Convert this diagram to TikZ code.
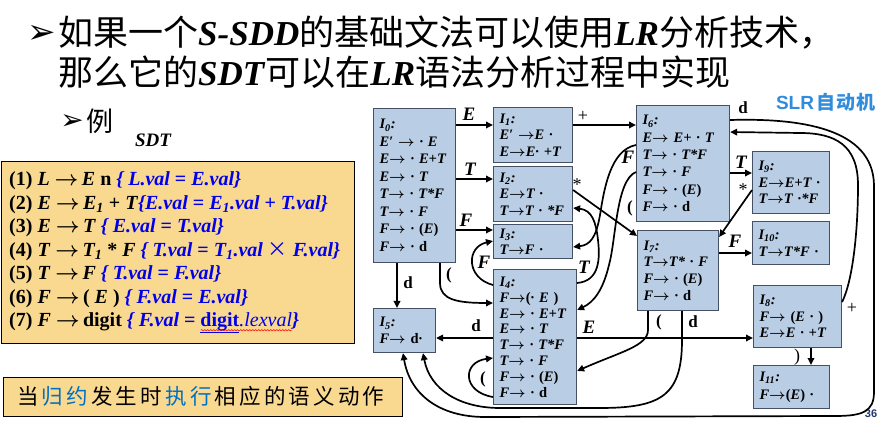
\documentclass[tikz,border=0pt]{standalone}
\usepackage{fontspec}
\setmainfont{Liberation Serif}
\newfontfamily\cjk{Noto Sans CJK SC}
\newfontfamily\dingfont{DejaVu Sans}
\newfontfamily\arialf{Liberation Sans}
\usetikzlibrary{arrows.meta,decorations.pathmorphing}

\definecolor{statefill}{RGB}{185,205,229}
\definecolor{stateedge}{RGB}{70,80,100}
\definecolor{sdtfill}{RGB}{249,216,143}
\definecolor{actblue}{RGB}{0,0,235}
\definecolor{cjkblue}{RGB}{0,112,192}
\definecolor{slrblue}{RGB}{50,140,220}
\definecolor{pgnum}{RGB}{31,56,110}

\newcommand{\rto}{\mbox{\boldmath$\rightarrow$}}
\newcommand{\ru}[1]{\textup{#1}}
\newcommand{\act}[1]{\textcolor{actblue}{\itshape #1}}
\newcommand{\kk}{\kern3.2pt}
% red wavy underline under a piece of text
\newcommand{\wavy}[1]{\setbox0\hbox{#1}\rlap{\raisebox{-3.5pt}{\tikz[baseline=0pt]\draw[red, line width=0.5pt,
  decorate, decoration={snake, amplitude=0.7pt, segment length=3pt}] (0pt,0pt) -- (\wd0,0pt);}}\box0}

\tikzset{
  state/.style={draw=stateedge, fill=statefill, line width=1.1pt, anchor=north west,
    align=left, inner xsep=6pt, inner ysep=0pt,
    font=\fontsize{14.5}{16.7}\selectfont\bfseries\itshape},
  conn/.style={line width=1.7pt, -{Triangle[length=7pt,width=6.5pt]}},
  elab/.style={font=\fontsize{19}{19}\selectfont\bfseries\itshape, inner sep=0pt},
  slab/.style={font=\fontsize{17}{17}\selectfont\bfseries, inner sep=0pt},
  plab/.style={font=\fontsize{18}{18}\selectfont, inner sep=0pt},
  notebox/.style={draw, fill=sdtfill, line width=1.2pt, anchor=north west, inner sep=0pt}
}

\begin{document}
\begin{tikzpicture}[x=1pt,y=-1pt]
\useasboundingbox (0,0) rectangle (887,422);
\fill[white] (0,0) rectangle (887,422);

% heading
\node[anchor=east, inner sep=0pt, font=\dingfont\fontsize{34}{34}\selectfont] (b1) at (56,34) {➢};
\node[anchor=base west, inner sep=0pt, font=\fontsize{35}{35}\selectfont] (t1) at (58,46)
  {{\cjk 如果一个}\textbf{\textit{S-SDD}}{\cjk 的基础文法可以使用}\textbf{\textit{LR}}{\cjk 分析技术，}};
\node[anchor=base west, inner sep=0pt, font=\fontsize{35}{35}\selectfont] (t2) at (58,86)
  {{\cjk 那么它的}\textbf{\textit{SDT}}{\cjk 可以在}\textbf{\textit{LR}}{\cjk 语法分析过程中实现}};

\node[inner sep=0pt, font=\dingfont\fontsize{28}{28}\selectfont] (b2) at (72,122) {➢};
\node[inner sep=0pt, font=\cjk\fontsize{27}{27}\selectfont] (ex) at (100,121) {例};
\node[inner sep=0pt, font=\fontsize{19}{19}\selectfont\bfseries\itshape] (sdtlab) at (153,140) {SDT};

% translation scheme
\node[notebox, minimum width=353pt, minimum height=182pt] (sdtbox) at (1,161) {};
\node[anchor=west, inner sep=0pt, align=left, font=\fontsize{20}{23.5}\selectfont\bfseries] (sdt) at (9,252.5) {%
(1) \textit{L} \rto\,\textit{E} n \act{\{ L.val \ru{=} E.val\}}\\
(2) \textit{E} \rto\,\textit{E\textsubscript{1}} + \textit{T}\act{\{E.val \ru{=} E\textsubscript{1}.val \ru{+} T.val\}}\\
(3) \textit{E} \rto\,\textit{T} \act{\{ E.val \ru{=} T.val\}}\\
(4) \textit{T} \rto\,\textit{T\textsubscript{1}} * \textit{F} \act{\{ T.val \ru{=} T\textsubscript{1}.val {\cjk\mdseries\upshape ×} F.val\}}\\
(5) \textit{T} \rto\,\textit{F} \act{\{ T.val \ru{=} F.val\}}\\
(6) \textit{F} \rto\,( \textit{E} ) \act{\{ F.val \ru{=} E.val\}}\\
(7) \textit{F} \rto\,digit \act{\{ F.val \ru{=} \wavy{{\upshape\underline{digit}}\mdseries.lexval}\}}};

% note
\node[notebox, minimum width=399pt, minimum height=39pt] (note) at (3,377) {};
\node[anchor=west, inner sep=0pt, font=\cjk\fontsize{21.5}{21.5}\selectfont] (notetext) at (17,396)
  {当\kk\textcolor{cjkblue}{归\kk 约}\kk 发\kk 生\kk 时\kk\textcolor{cjkblue}{执\kk 行}\kk 相\kk 应\kk 的\kk 语\kk 义\kk 动\kk 作};

% automaton title and page number
\node[inner sep=0pt, text=slrblue] (slr) at (826,102)
  {\fontsize{19}{19}\selectfont\arialf\bfseries SLR\kern2pt\cjk\bfseries 自\kern1.5pt 动\kern1.5pt 机};
\node[inner sep=0pt, text=pgnum, font=\arialf\bfseries\fontsize{11}{11}\selectfont] (pg) at (871,414) {36};

% states
\node[state, text width=70pt, minimum height=154pt, font=\fontsize{14.5}{17.5}\selectfont\bfseries\itshape] (I0) at (373,108) {%
I\textsubscript{0}:\\ E′ \rto{} · E\\ E\rto{} · E+T\\ E\rto{} · T\\ T\rto{} · T*F\\ T\rto{} · F\\ F\rto{} · \ru{(}E\ru{)}\\ F\rto{} · \ru{d}};
\node[state, text width=67pt, minimum height=55pt] (I1) at (493,107) {%
I\textsubscript{1}:\\ E′ \rto E ·\\ E\rto E· +T};
\node[state, text width=67pt, minimum height=55pt] (I2) at (493,166) {%
I\textsubscript{2}:\\ E\rto T ·\\ T\rto T · *F};
\node[state, text width=67pt, minimum height=34pt, font=\fontsize{14.5}{16.5}\selectfont\bfseries\itshape] (I3) at (493,224) {%
I\textsubscript{3}:\\ T\rto F ·};
\node[state, text width=71pt, minimum height=135pt, font=\fontsize{14.5}{15.8}\selectfont\bfseries\itshape] (I4) at (493,269) {%
I\textsubscript{4}:\\ F\rto\ru{(}· E \ru{)}\\ E\rto{} · E+T\\ E\rto{} · T\\ T\rto{} · T*F\\ T\rto{} · F\\ F\rto{} · \ru{(}E\ru{)}\\ F\rto{} · \ru{d}};
\node[state, text width=50pt, minimum height=44pt] (I5) at (373,308) {%
I\textsubscript{5}:\\ F\rto{} \ru{d}·};
\node[state, text width=81pt, minimum height=116pt, font=\fontsize{14.5}{17.3}\selectfont\bfseries\itshape] (I6) at (636,105) {%
I\textsubscript{6}:\\ E\rto{} E+ · T\\ T\rto{} · T*F\\ T\rto{} · F\\ F\rto{} · \ru{(}E\ru{)}\\ F\rto{} · \ru{d}};
\node[state, text width=69pt, minimum height=80pt] (I7) at (637,230) {%
I\textsubscript{7}:\\ T\rto T* · F\\ F\rto{} · \ru{(}E\ru{)}\\ F\rto{} · \ru{d}};
\node[state, text width=76pt, minimum height=62pt] (I8) at (753,285) {%
I\textsubscript{8}:\\ F\rto{} \ru{(}E · \ru{)}\\ E\rto E · +T};
\node[state, text width=65pt, minimum height=62pt] (I9) at (752,151) {%
I\textsubscript{9}:\\ E\rto E+T ·\\ T\rto T ·*F};
\node[state, text width=65pt, minimum height=43pt, font=\fontsize{14.5}{17.5}\selectfont\bfseries\itshape] (I10) at (752,221) {%
I\textsubscript{10}:\\ T\rto T*F ·};
\node[state, text width=64pt, minimum height=43pt, font=\fontsize{14.5}{17.5}\selectfont\bfseries\itshape] (I11) at (753,365) {%
I\textsubscript{11}:\\ F\rto\ru{(}E\ru{)} ·};

% transitions out of I0
\draw[conn] (I0.east |- 0,125) -- (I1.west |- 0,125);
\node[elab] (lE1) at (469,114) {E};
\draw[conn] (I0.east |- 0,179) -- (I2.west |- 0,179);
\node[elab] (lT1) at (470,169) {T};
\draw[conn] (I0.east |- 0,230) -- (I3.west |- 0,230);
\node[elab] (lF1) at (466,220) {F};
\draw[conn] (I0.south -| 397,0) -- (I5.north -| 397,0);
\node[slab] (ld1) at (408,283) {d};
\draw[conn] (I0.south -| 440,0) -- (440,283) .. controls (440,300) and (458,303) .. (I4.west |- 0,303);
\node[slab] (lp1) at (449,275) {(};

% transitions out of I1, I2
\draw[conn] (I1.east |- 0,125) -- (I6.west |- 0,125);
\node[plab] (lplus1) at (583,116) {+};
\draw[conn] (I2.east |- 0,190) -- (I7.west |- 0,236);
\node[plab] (ls1) at (577,185) {*};

% transitions out of I4
\draw[conn] (I4.east |- 0,283) .. controls (600,281) and (600,258) .. (598,240)
  .. controls (596,222) and (592,210) .. (I2.east |- 0,208);
\node[elab] (lT2) at (584,267) {T};
\draw[conn] (I4.west |- 0,285) .. controls (466,278) and (466,247) .. (I3.west |- 0,241);
\node[elab] (lF2) at (484,262) {F};
\draw[conn] (I4.west |- 0,397) .. controls (462,392) and (462,362) .. (I4.west |- 0,358);
\node[slab] (lp2) at (483,379) {(};
\draw[conn] (I4.west |- 0,338) -- (I5.east |- 0,338);
\node[slab] (ld2) at (476,326) {d};
\draw[conn] (I4.east |- 0,338) -- (I8.west |- 0,338);
\node[elab] (lE2) at (589,327) {E};

% transitions out of I6
\draw[conn] (I6.east |- 0,173) -- (I9.west |- 0,173);
\node[elab] (lT3) at (741,162) {T};
\draw[conn] (I6.west |- 0,145) .. controls (610,150) and (604,190) .. (600,215)
  .. controls (596,238) and (590,245) .. (I3.east |- 0,247);
\node[elab] (lF4) at (628,157) {F};
\draw[conn] (I6.west |- 0,172) .. controls (616,180) and (616,240) .. (609,265)
  .. controls (603,290) and (594,302) .. (I4.east |- 0,310);
\node[slab] (lp3) at (630,208) {(};
\draw[conn] (I6.east |- 0,120) .. controls (800,118) and (873,128) .. (874,185) -- (874,392)
  .. controls (874,412) and (862,416) .. (835,416) -- (485,417)
  .. controls (440,417) and (410,395) .. (I5.south -| 403,0);
\node[slab] (ld3) at (743,108) {d};

% transitions out of I9, I7, I8
\draw[conn] (I9.west |- 0,190) -- (I7.east |- 0,237);
\node[plab] (ls2) at (743,190) {*};
\draw[conn] (I7.east |- 0,253) -- (I10.west |- 0,253);
\node[elab] (lF3) at (735,241) {F};
\draw[conn] (I7.south -| 648,0) -- (648,330) .. controls (648,346) and (620,352) .. (I4.east |- 0,371);
\node[slab] (lp4) at (659,322) {(};
\draw[conn] (I7.south -| 682,0) -- (682,340) .. controls (682,395) and (662,408) .. (600,408) -- (500,408)
  .. controls (460,408) and (430,390) .. (I5.south -| 423,0);
\node[slab] (ld4) at (693,322) {d};
\draw[conn] (I8.east |- 0,302) .. controls (853,280) and (858,230) .. (858,185)
  .. controls (858,145) and (835,133) .. (800,133) -- (I6.east |- 0,132);
\node[plab] (lplus2) at (852,308) {+};
\draw[conn] (I8.south -| 811,0) -- (I11.north -| 811,0);
\node[plab] (lrp) at (797,357) {)};
\end{tikzpicture}
\end{document}
